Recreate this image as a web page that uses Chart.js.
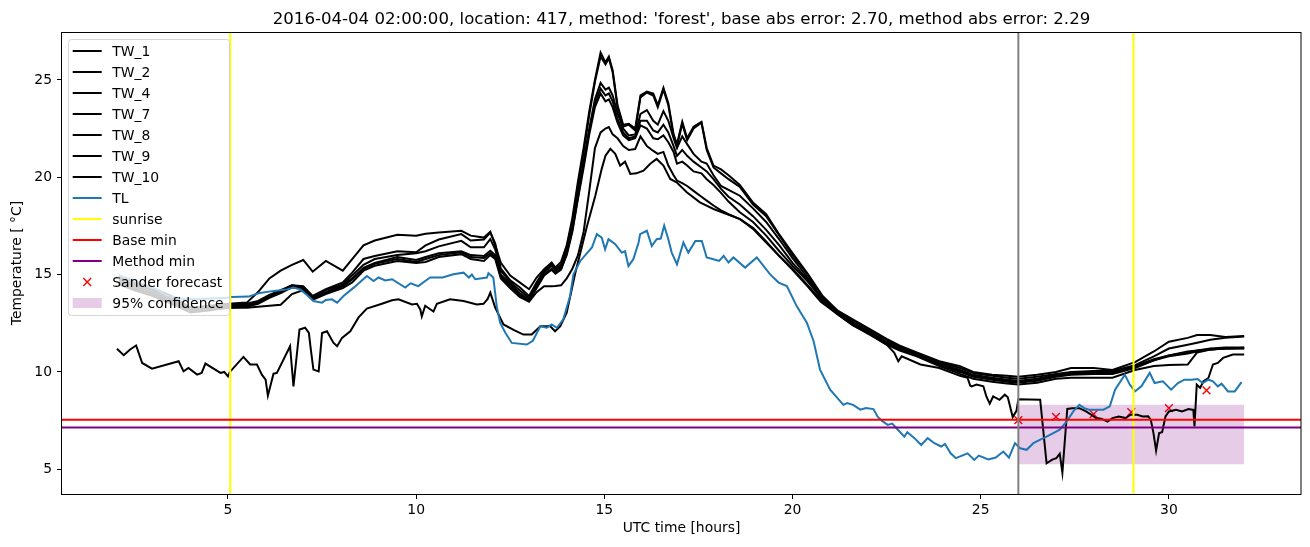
<!DOCTYPE html>
<html>
<head>
<meta charset="utf-8">
<title>Temperature forecast</title>
<script src="https://cdn.jsdelivr.net/npm/chart.js@4.4.1/dist/chart.umd.min.js"></script>
<style>
    html, body { margin: 0; padding: 0; background: #fff; }
    #chart { display: block; }
</style>
</head>
<body>
<canvas id="chart" width="1310" height="547" style="width:1310px;height:547px"></canvas>
<script>
const chartTitle = "2016-04-04 02:00:00, location: 417, method: 'forest', base abs error: 2.70, method abs error: 2.29";

// axis limits (hours / degrees C) and tick labels
const xMin = 0.59, xMax = 33.51;
const yMin = 3.73, yMax = 27.46;
const xTicks = [5, 10, 15, 20, 25, 30];
const yTicks = [5, 10, 15, 20, 25];

// shared time grid of the six clustered water temperature sensors
const twHours = [
    2.1, 2.5, 3.0, 3.5, 4.0, 4.5, 5.0, 5.5, 5.8, 6.1,
    6.4, 6.7, 7.0, 7.25, 7.6, 8.05, 8.3, 8.6, 8.9, 9.5,
    10.0, 10.25, 10.6, 11.2, 11.45, 11.8, 11.97, 12.1, 12.25, 12.5,
    12.75, 13.0, 13.2, 13.4, 13.6, 13.7, 13.85, 14.0, 14.15, 14.3,
    14.45, 14.6, 14.75, 14.9, 15.03, 15.12, 15.22, 15.35, 15.5, 15.65,
    15.82, 15.96, 16.13, 16.3, 16.42, 16.57, 16.7, 16.84, 16.93, 17.07,
    17.2, 17.37, 17.58, 17.72, 17.9, 18.1, 18.3, 18.6, 18.95, 19.3,
    19.65, 20.0, 20.4, 20.8, 21.2, 21.6, 22.1, 22.5, 22.85, 23.3,
    23.9, 24.45, 24.8, 25.3, 25.7, 26.0, 26.5, 27.0, 27.4, 28.0,
    28.5, 29.1, 29.6, 30.0, 30.5, 30.75, 31.1, 31.5, 32.0
];

const tw1 = [
    14.9, 14.6, 14.3, 13.9, 13.3, 13.4, 13.5, 13.56, 14.1, 14.8,
    15.2, 15.5, 15.75, 15.15, 15.7, 15.2, 15.8, 16.5, 16.75, 17.05,
    17.0, 17.1, 17.16, 17.25, 17.0, 16.9, 17.2, 16.5, 15.6, 14.95,
    14.6, 14.25, 14.85, 15.27, 15.62, 15.36, 15.65, 16.5, 17.9, 19.8,
    21.5, 23.4, 25.0, 26.4, 25.9, 26.2, 25.5, 23.7, 22.7, 22.75,
    22.5, 24.2, 24.4, 24.3, 23.7, 24.6, 23.8, 22.2, 21.7, 22.85,
    22.0, 22.6, 22.85, 21.5, 20.6, 20.4, 20.1, 19.6, 18.7, 18.1,
    17.05, 16.1, 15.05, 13.9, 13.15, 12.7, 12.15, 11.7, 11.35, 11.0,
    10.55, 10.3, 10.0, 9.85, 9.8, 9.75, 9.85, 10.0, 10.2, 10.2,
    10.1, 10.5, 11.05, 11.55, 11.75, 11.9, 11.9, 11.8, 11.84
];
const tw2 = [
    14.8, 14.5, 14.2, 13.8, 13.25, 13.35, 13.45, 13.5, 13.65, 13.95,
    14.2, 14.45, 14.4, 13.9, 14.25, 14.6, 15.1, 15.8, 15.95, 16.2,
    16.15, 16.5, 16.8, 17.08, 16.75, 16.8, 17.16, 16.6, 15.3, 14.7,
    14.35, 13.9, 14.6, 15.2, 15.55, 15.3, 15.5, 16.4, 17.7, 19.6,
    21.3, 23.2, 24.9, 26.2, 25.8, 26.1, 25.4, 23.6, 22.6, 22.7,
    22.4, 24.1, 24.35, 24.2, 23.6, 24.5, 23.7, 22.1, 21.6, 22.75,
    21.9, 22.5, 22.8, 21.4, 20.5, 20.2, 19.9, 19.5, 18.6, 18.0,
    17.0, 16.0, 15.0, 13.85, 13.1, 12.65, 12.1, 11.65, 11.3, 10.95,
    10.5, 10.2, 9.95, 9.8, 9.7, 9.65, 9.75, 9.9, 10.0, 10.05,
    10.05, 10.35, 10.8, 11.2, 11.4, 11.5, 11.65, 11.75, 11.82
];
const tw4 = [
    14.7, 14.4, 14.1, 13.7, 13.2, 13.3, 13.4, 13.45, 13.6, 13.9,
    14.15, 14.45, 14.35, 13.85, 14.2, 14.5, 14.95, 15.5, 15.8, 16.0,
    16.1, 16.2, 16.45, 16.73, 16.4, 16.4, 16.82, 16.3, 15.2, 14.6,
    14.2, 13.8, 14.5, 15.1, 15.45, 15.2, 15.4, 16.2, 17.4, 19.2,
    20.8, 22.5, 24.0, 24.85, 24.5, 24.6, 24.2, 23.3, 22.5, 22.15,
    22.2, 23.25, 23.45, 22.9, 22.7, 23.4, 22.9, 22.0, 21.5, 22.1,
    21.7, 21.2, 20.8, 20.7, 20.1, 19.55, 19.35, 19.05, 18.4, 17.7,
    16.8, 15.85, 14.85, 13.75, 13.05, 12.55, 12.0, 11.55, 11.25, 10.9,
    10.45, 10.1, 9.85, 9.7, 9.6, 9.55, 9.65, 9.85, 9.95, 10.0,
    10.0, 10.3, 10.65, 10.85, 11.0, 11.1, 11.15, 11.2, 11.24
];
const tw7 = [
    14.6, 14.3, 14.0, 13.6, 13.15, 13.25, 13.35, 13.4, 13.55, 13.85,
    14.1, 14.4, 14.3, 13.8, 14.1, 14.45, 14.8, 15.35, 15.6, 15.9,
    15.75, 15.9, 16.1, 16.2, 16.0, 15.95, 16.22, 16.0, 15.0, 14.5,
    14.05, 13.7, 14.4, 15.0, 15.3, 15.1, 15.3, 16.0, 17.2, 18.9,
    20.5, 22.2, 23.6, 24.3, 23.9, 24.0, 23.6, 22.8, 22.15, 21.9,
    22.0, 22.66, 22.5, 22.0, 21.95, 22.15, 21.8, 21.3, 20.7, 20.8,
    20.6, 20.3, 20.2, 19.9, 19.6, 19.2, 18.75, 18.2, 17.7, 17.0,
    16.2, 15.45, 14.65, 13.7, 13.0, 12.45, 11.95, 11.45, 11.15, 10.85,
    10.35, 10.0, 9.75, 9.6, 9.5, 9.45, 9.55, 9.75, 9.85, 9.9,
    9.9, 10.2, 10.6, 10.8, 10.95, 11.05, 11.15, 11.2, 11.22
];
const tw8 = [
    14.5, 14.2, 13.9, 13.5, 13.05, 13.15, 13.3, 13.3, 13.35, 13.4,
    13.45, 14.0, 14.2, 13.7, 14.0, 14.3, 14.6, 15.2, 15.45, 15.7,
    15.6, 15.65, 15.9, 16.05, 15.8, 15.7, 16.0, 15.8, 14.8, 14.3,
    13.85, 13.6, 14.1, 14.4, 14.4, 14.41, 14.45, 14.8, 15.3, 16.0,
    17.2, 19.3, 21.5, 22.3, 22.5, 22.58, 22.2, 22.0, 21.6, 21.4,
    21.45, 22.1, 21.6, 21.35, 21.2, 21.3, 20.6, 20.1, 19.83, 19.7,
    19.55, 19.3, 19.0, 18.8, 18.55, 18.3, 18.1, 17.85, 17.4, 16.7,
    15.95, 15.3, 14.45, 13.6, 12.95, 12.4, 11.9, 11.4, 11.1, 10.8,
    10.3, 9.9, 9.65, 9.5, 9.4, 9.35, 9.45, 9.65, 9.7, 9.7,
    9.7, 10.1, 10.3, 10.35, 10.38, 11.0, 11.15, 11.2, 11.2
];
const tw9 = [
    14.55, 14.25, 13.95, 13.55, 13.1, 13.2, 13.3, 13.35, 13.5, 13.8,
    14.05, 14.35, 14.25, 13.75, 14.05, 14.4, 14.75, 15.3, 15.55, 15.8,
    15.65, 15.8, 16.0, 16.15, 15.9, 15.85, 16.1, 15.9, 14.9, 14.4,
    13.95, 13.65, 14.3, 14.95, 15.25, 15.05, 15.25, 16.1, 17.3, 19.0,
    20.7, 22.4, 23.8, 24.55, 24.2, 24.3, 23.9, 23.0, 22.3, 22.0,
    22.1, 22.9, 22.9, 22.4, 22.3, 22.7, 22.3, 21.6, 21.1, 21.4,
    21.1, 20.8, 20.5, 20.3, 19.9, 19.4, 19.0, 18.6, 18.0, 17.3,
    16.5, 15.6, 14.75, 13.75, 13.0, 12.5, 11.95, 11.5, 11.2, 10.9,
    10.4, 10.05, 9.8, 9.65, 9.55, 9.5, 9.6, 9.8, 9.9, 9.95,
    9.95, 10.25, 10.6, 10.85, 11.05, 11.1, 11.2, 11.25, 11.26
];

// TW_10 has its own sampling, [hour, temperature]
const tw10 = [
    [2.05, 11.19], [2.23, 10.86], [2.4, 11.15], [2.56, 11.36], [2.72, 10.46], [2.98, 10.17],
    [3.69, 10.55], [3.82, 10.03], [3.95, 10.2], [4.18, 9.86], [4.3, 9.95], [4.4, 10.43],
    [4.8, 9.95], [4.9, 10.0], [5.0, 9.77], [5.05, 10.0], [5.41, 10.77], [5.59, 10.38],
    [5.77, 10.38], [5.9, 9.86], [6.0, 9.6], [6.06, 8.78], [6.21, 9.91], [6.3, 9.95],
    [6.65, 11.32], [6.74, 9.26], [6.9, 12.18], [7.05, 12.27], [7.15, 12.0], [7.19, 11.32],
    [7.27, 10.12], [7.41, 10.03], [7.5, 12.0], [7.63, 12.09], [7.8, 11.5], [7.9, 11.32],
    [8.03, 11.75], [8.25, 12.09], [8.47, 12.8], [8.69, 13.25], [9.09, 13.5], [9.36, 13.68],
    [9.53, 13.73], [9.89, 13.47], [10.02, 13.5], [10.11, 13.21], [10.15, 12.85], [10.24, 13.4],
    [10.46, 13.1], [10.55, 13.5], [10.9, 13.73], [11.26, 13.64], [11.61, 13.47], [11.79, 13.5],
    [11.9, 13.75], [11.97, 14.07], [12.1, 13.3], [12.32, 12.44], [12.6, 12.15], [12.85, 11.92],
    [13.07, 11.92], [13.3, 12.35], [13.56, 12.35], [13.69, 12.09], [13.83, 12.35], [14.0, 13.04],
    [14.23, 15.1], [14.54, 17.5], [14.76, 19.05], [14.93, 20.43], [15.03, 21.11], [15.16, 21.46],
    [15.29, 21.2], [15.42, 20.6], [15.55, 20.8], [15.69, 20.17], [15.85, 20.2], [16.04, 20.34],
    [16.22, 20.69], [16.39, 20.94], [16.57, 20.6], [16.75, 19.91], [16.92, 19.74], [17.19, 19.23],
    [17.54, 18.71], [17.9, 18.37], [18.25, 18.11], [18.61, 17.85], [18.95, 17.35], [19.3, 16.65],
    [19.65, 15.95], [20.0, 15.25], [20.4, 14.4], [20.75, 13.6], [21.17, 13.0], [21.6, 12.4],
    [22.06, 11.9], [22.5, 11.4], [22.7, 11.0], [22.81, 10.55], [22.9, 10.8], [23.4, 10.38],
    [23.9, 10.2], [24.45, 9.8], [24.65, 9.7], [24.72, 9.3], [24.76, 9.26], [24.89, 9.35],
    [25.07, 9.26], [25.15, 8.74], [25.24, 8.37], [25.33, 8.74], [25.5, 8.57], [25.64, 8.83],
    [25.72, 8.7], [25.85, 7.68], [25.95, 8.0], [26.0, 8.6], [26.58, 8.57], [26.75, 5.31],
    [26.9, 5.5], [27.01, 5.57], [27.1, 5.8], [27.17, 4.83], [27.3, 8.1], [27.43, 8.14],
    [27.62, 8.14], [27.8, 7.97], [27.9, 7.85], [28.06, 7.63], [28.2, 7.6], [28.37, 7.45],
    [28.5, 7.63], [28.67, 7.71], [28.85, 7.63], [28.98, 7.8], [29.16, 7.8], [29.3, 7.71],
    [29.45, 7.72], [29.52, 7.54], [29.59, 6.86], [29.66, 5.96], [29.74, 6.86], [29.82, 6.9],
    [29.91, 7.71], [30.0, 7.97], [30.19, 8.06], [30.35, 7.97], [30.52, 8.09], [30.65, 8.05],
    [30.68, 7.2], [30.74, 9.35], [30.83, 9.18], [30.92, 9.52], [31.05, 9.69], [31.17, 10.38],
    [31.3, 10.46], [31.44, 10.72], [31.7, 10.89], [32.0, 10.89]
];

// air temperature, [hour, temperature]
const tl = [
    [2.1, 14.95], [2.5, 14.7], [2.85, 14.41], [3.11, 14.24], [3.38, 13.93], [3.82, 13.73],
    [4.3, 13.75], [4.97, 13.81], [5.1, 13.85], [5.55, 13.87], [5.81, 14.04], [6.17, 14.15],
    [6.57, 14.24], [6.74, 14.33], [6.92, 14.24], [7.1, 13.95], [7.27, 13.64], [7.5, 13.56],
    [7.6, 13.7], [7.76, 13.73], [7.9, 13.56], [8.07, 13.9], [8.34, 14.33], [8.69, 14.93],
    [8.87, 14.67], [9.0, 14.85], [9.18, 14.7], [9.36, 14.76], [9.71, 14.33], [9.85, 14.55],
    [10.06, 14.41], [10.24, 14.67], [10.37, 14.85], [10.7, 14.85], [10.99, 15.02], [11.26, 15.1],
    [11.4, 14.85], [11.48, 15.0], [11.57, 14.76], [11.88, 14.85], [11.92, 15.07], [12.05, 14.85],
    [12.14, 13.38], [12.23, 12.53], [12.37, 12.01], [12.54, 11.49], [12.94, 11.41], [13.1, 11.6],
    [13.3, 12.35], [13.47, 12.27], [13.6, 12.44], [13.74, 12.27], [13.91, 12.7], [14.09, 13.9],
    [14.18, 15.02], [14.36, 15.7], [14.67, 16.39], [14.8, 17.08], [14.93, 16.9], [15.02, 16.3],
    [15.11, 16.82], [15.29, 16.56], [15.46, 16.13], [15.55, 16.2], [15.64, 15.44], [15.77, 15.79],
    [15.91, 16.65], [15.95, 17.08], [16.13, 17.25], [16.26, 16.47], [16.39, 16.82], [16.5, 16.85],
    [16.59, 17.51], [16.7, 16.82], [16.79, 16.13], [16.93, 15.53], [17.1, 16.65], [17.23, 16.13],
    [17.42, 16.73], [17.59, 16.73], [17.72, 15.88], [17.9, 15.79], [18.05, 15.7], [18.17, 15.96],
    [18.3, 15.62], [18.43, 15.88], [18.74, 15.36], [19.05, 15.88], [19.4, 15.02], [19.63, 14.59],
    [19.85, 14.41], [20.11, 13.38], [20.38, 12.53], [20.56, 11.58], [20.73, 10.12], [21.0, 9.09],
    [21.35, 8.31], [21.45, 8.4], [21.61, 8.31], [21.8, 8.06], [21.95, 8.15], [22.15, 8.09],
    [22.26, 7.7], [22.37, 7.5], [22.53, 7.28], [22.65, 7.35], [22.8, 7.03], [22.97, 6.68],
    [23.05, 6.9], [23.24, 6.6], [23.42, 6.25], [23.59, 6.6], [23.77, 6.34], [23.95, 6.17],
    [24.05, 6.3], [24.2, 5.82], [24.34, 5.57], [24.65, 5.82], [24.83, 5.48], [24.95, 5.7],
    [25.2, 5.5], [25.4, 5.6], [25.6, 5.91], [25.75, 5.6], [25.91, 6.34], [26.05, 6.08],
    [26.22, 6.0], [26.4, 6.34], [26.57, 6.51], [26.75, 6.68], [26.93, 6.86], [27.1, 7.03],
    [27.28, 7.45], [27.46, 7.97], [27.62, 8.31], [27.75, 8.14], [27.88, 8.06], [28.26, 8.06],
    [28.43, 8.23], [28.57, 9.09], [28.83, 9.86], [28.96, 9.35], [29.1, 9.0], [29.27, 9.26],
    [29.49, 9.95], [29.62, 9.43], [29.84, 9.52], [30.06, 9.09], [30.24, 9.43], [30.41, 9.6],
    [30.6, 9.6], [30.76, 9.64], [30.9, 9.43], [31.05, 9.6], [31.17, 9.52], [31.3, 9.26],
    [31.4, 9.4], [31.57, 9.0], [31.75, 9.0], [31.93, 9.48]
];

const sunriseHours = [5.06, 29.06];
const forecastStart = 26.0;
const baseMin = 7.54;
const methodMin = 7.14;

const forecastHours = [26, 27, 28, 29, 30, 31];
const forecastTemps = [7.52, 7.69, 7.83, 7.94, 8.14, 9.05];

const confHours = [26, 32];
const confLow = [5.26, 5.26];
const confHigh = [8.31, 8.31];

const toPoints = (xs, ys) => xs.map((x, i) => ({ x: x, y: ys[i] }));
const fromPairs = (pairs) => pairs.map((p) => ({ x: p[0], y: p[1] }));

function lineSet(label, data, color, order, legendKind = "line") {
    return {
        type: "line",
        label: label,
        data: data,
        borderColor: color,
        backgroundColor: color,
        borderWidth: 2,
        pointRadius: 0,
        tension: 0,
        fill: false,
        clip: 0,
        order: order,
        legendKind: legendKind,
    };
}

const sunriseData = sunriseHours.flatMap((h) => [
    { x: h, y: yMin }, { x: h, y: yMax }, { x: h, y: null },
]);

const datasets = [
    lineSet("TW_1", toPoints(twHours, tw1), "#000000", 16),
    lineSet("TW_2", toPoints(twHours, tw2), "#000000", 15),
    lineSet("TW_4", toPoints(twHours, tw4), "#000000", 14),
    lineSet("TW_7", toPoints(twHours, tw7), "#000000", 13),
    lineSet("TW_8", toPoints(twHours, tw8), "#000000", 12),
    lineSet("TW_9", toPoints(twHours, tw9), "#000000", 11),
    lineSet("TW_10", fromPairs(tw10), "#000000", 10),
    lineSet("TL", fromPairs(tl), "#1f77b4", 9),
    lineSet("sunrise", sunriseData, "#ffff00", 8),
    lineSet("Base min", [{ x: xMin, y: baseMin }, { x: xMax, y: baseMin }], "#ff0000", 7),
    lineSet("Method min", [{ x: xMin, y: methodMin }, { x: xMax, y: methodMin }], "#800080", 6),
    {
        type: "line",
        label: "Sander forecast",
        data: toPoints(forecastHours, forecastTemps),
        showLine: false,
        pointStyle: "crossRot",
        pointRadius: 5.5,
        pointBorderWidth: 1.4,
        pointBorderColor: "#ff0000",
        pointBackgroundColor: "#ff0000",
        borderColor: "#ff0000",
        clip: 0,
        order: 21,
        legendKind: "marker",
    },
    {
        type: "line",
        label: "95% confidence",
        data: toPoints(confHours, confHigh),
        borderWidth: 0,
        pointRadius: 0,
        backgroundColor: "rgba(128, 0, 128, 0.2)",
        fill: "+1",
        clip: 0,
        order: 20,
        legendKind: "patch",
    },
    {
        type: "line",
        label: "",
        data: toPoints(confHours, confLow),
        borderWidth: 0,
        pointRadius: 0,
        fill: false,
        clip: 0,
        order: 20,
    },
    lineSet("", [{ x: forecastStart, y: yMin }, { x: forecastStart, y: yMax }], "#808080", 5, null),
];

const FONT = "DejaVu Sans";
const FS = 13.9;

// title over the plot area
const titlePlugin = {
    id: "plotTitle",
    afterDraw(chart) {
        const { ctx, chartArea } = chart;
        ctx.save();
        ctx.font = `16.6px "${FONT}"`;
        ctx.fillStyle = "#000";
        ctx.textAlign = "center";
        ctx.textBaseline = "alphabetic";
        ctx.fillText(chartTitle, (chartArea.left + chartArea.right) / 2, 24);
        ctx.restore();
    },
};

// full box around the axes
const framePlugin = {
    id: "frame",
    afterDatasetsDraw(chart) {
        const { ctx, chartArea } = chart;
        ctx.save();
        ctx.strokeStyle = "#000";
        ctx.lineWidth = 1;
        ctx.strokeRect(chartArea.left - 0.5, chartArea.top + 0.5,
            chartArea.right - chartArea.left + 0.5, chartArea.bottom - chartArea.top);
        ctx.restore();
    },
};

// matplotlib style legend in the upper left corner
const legendPlugin = {
    id: "mplLegend",
    afterDraw(chart) {
        const { ctx } = chart;
        const items = chart.data.datasets.filter((d) => d.legendKind && d.label);
        ctx.save();
        ctx.beginPath();
        ctx.roundRect(68.5, 39.5, 161, 276, 3);
        ctx.fillStyle = "rgba(255, 255, 255, 0.8)";
        ctx.fill();
        ctx.strokeStyle = "rgba(204, 204, 204, 0.8)";
        ctx.lineWidth = 1;
        ctx.stroke();

        ctx.font = `${FS}px "${FONT}"`;
        ctx.textBaseline = "alphabetic";
        ctx.textAlign = "left";
        items.forEach((d, i) => {
            const y = 51 + i * 21;
            if (d.legendKind === "line") {
                ctx.strokeStyle = d.borderColor;
                ctx.lineWidth = 2;
                ctx.beginPath();
                ctx.moveTo(72.7, y);
                ctx.lineTo(101.7, y);
                ctx.stroke();
            } else if (d.legendKind === "marker") {
                const r = 3.9;
                ctx.strokeStyle = d.pointBorderColor;
                ctx.lineWidth = d.pointBorderWidth;
                ctx.beginPath();
                ctx.moveTo(87.2 - r, y - r);
                ctx.lineTo(87.2 + r, y + r);
                ctx.moveTo(87.2 - r, y + r);
                ctx.lineTo(87.2 + r, y - r);
                ctx.stroke();
            } else {
                ctx.fillStyle = d.backgroundColor;
                ctx.fillRect(72.7, y - 5, 29, 10);
            }
            ctx.fillStyle = "#000";
            ctx.fillText(d.label, 112.3, y + 5);
        });
        ctx.restore();
    },
};

const tickFont = { family: FONT, size: FS };

const config = {
    type: "line",
    data: { datasets: datasets },
    options: {
        responsive: false,
        devicePixelRatio: 1,
        animation: false,
        events: [],
        layout: { padding: { left: 0, right: 9, top: 32, bottom: 0 } },
        plugins: {
            legend: { display: false },
            tooltip: { enabled: false },
            title: { display: false },
        },
        scales: {
            x: {
                type: "linear",
                min: xMin,
                max: xMax,
                afterBuildTicks: (scale) => {
                    scale.ticks = xTicks.map((v) => ({ value: v }));
                },
                afterFit: (scale) => {
                    scale.height = 53;
                },
                ticks: {
                    font: tickFont,
                    color: "#000",
                    padding: 3,
                    maxRotation: 0,
                    autoSkip: false,
                    callback: (v) => String(v),
                },
                grid: { drawOnChartArea: false, tickLength: 5, color: "#000", lineWidth: 1 },
                border: { display: false },
                title: {
                    display: true,
                    text: "UTC time [hours]",
                    font: tickFont,
                    color: "#000",
                    padding: { top: 0, bottom: 10 },
                },
            },
            y: {
                type: "linear",
                min: yMin,
                max: yMax,
                afterBuildTicks: (scale) => {
                    scale.ticks = yTicks.map((v) => ({ value: v }));
                },
                afterFit: (scale) => {
                    scale.width = 62;
                },
                ticks: {
                    font: tickFont,
                    color: "#000",
                    padding: 5,
                    autoSkip: false,
                    callback: (v) => String(v),
                },
                grid: { drawOnChartArea: false, tickLength: 5, color: "#000", lineWidth: 1 },
                border: { display: false },
                title: {
                    display: true,
                    text: "Temperature [ °C]",
                    font: tickFont,
                    color: "#000",
                    padding: { top: 9, bottom: 0 },
                },
            },
        },
    },
    plugins: [titlePlugin, framePlugin, legendPlugin],
};

const chart = new Chart(document.getElementById("chart"), config);
</script>
</body>
</html>
